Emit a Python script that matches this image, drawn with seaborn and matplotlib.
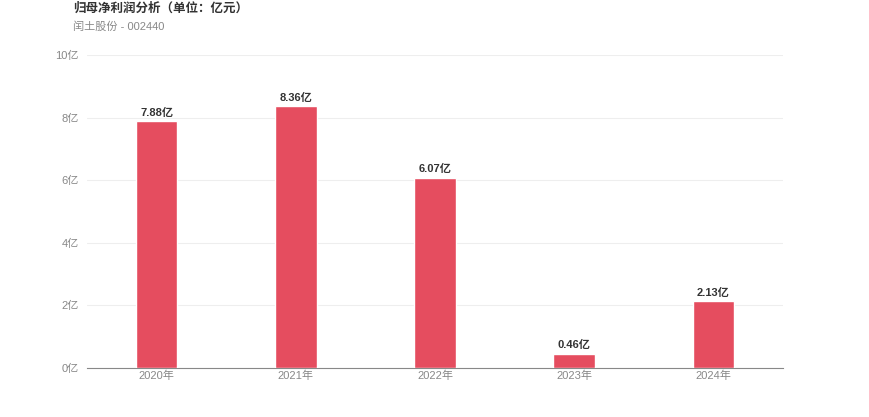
import numpy as np
import pandas as pd
import matplotlib
matplotlib.use("Agg")
import matplotlib.pyplot as plt
import seaborn as sns

# data
years = ["2020年", "2021年", "2022年", "2023年", "2024年"]
profit = [7.88, 8.36, 6.07, 0.46, 2.13]
yticks = [0, 2, 4, 6, 8, 10]

sns.set_style("white")
plt.rcParams['font.family'] = ['Liberation Sans', 'Noto Sans CJK SC', 'DejaVu Sans']

df = pd.DataFrame({"year": years, "profit": profit})

fig = plt.figure(figsize=(8.7, 4.17), dpi=100)
ax = fig.add_axes([0.1, 0.1175, 0.8, 0.7505])

sns.barplot(data=df, x="year", y="profit", color="#E54D5F", width=0.3,
            saturation=1, ax=ax, zorder=3)

for i, v in enumerate(profit):
    ax.text(i, v + 0.12, f"{v:.2f}亿", ha="center", va="bottom",
            fontsize=8, fontweight="bold", color="#333333")

ax.set_ylim(0, 10)
ax.set_xlim(-0.5, len(years) - 0.5)
ax.set_yticks(yticks)
ax.set_yticklabels([f"{t}亿" for t in yticks])
ax.yaxis.grid(True, color="#EEEEEE", linewidth=0.8, zorder=0)
ax.set_xlabel("")
ax.set_ylabel("")
for s in ["top", "right", "left"]:
    ax.spines[s].set_visible(False)
ax.spines["bottom"].set_color("#888888")
ax.spines["bottom"].set_linewidth(0.8)
ax.tick_params(axis="both", length=0, labelsize=8, colors="#888888")
ax.tick_params(axis="y", pad=6)
ax.tick_params(axis="x", pad=2)

fig.text(0.084, 0.993, "归母净利润分析（单位：亿元）", fontsize=9, fontweight="bold",
         color="#333333", va="top", ha="left")
fig.text(0.084, 0.95, "闰土股份 - 002440", fontsize=8, color="#888888",
         va="top", ha="left")

fig.savefig("out.png", dpi=100)
